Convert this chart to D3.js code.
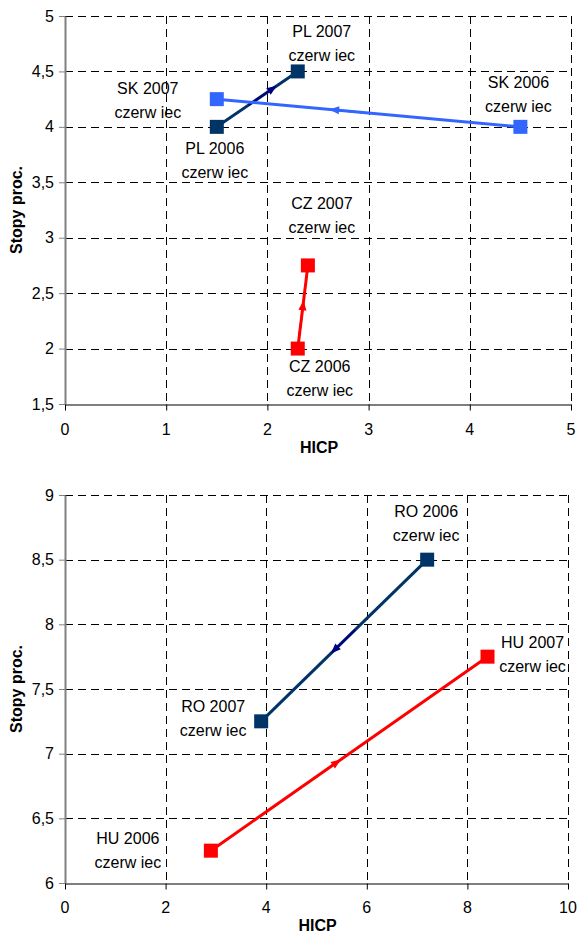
<!DOCTYPE html>
<html>
<head>
<meta charset="utf-8">
<script src="https://cdn.jsdelivr.net/npm/d3@7"></script>
<style>
  html, body { margin: 0; padding: 0; background: #fff; }
  svg { display: block; font-family: "Liberation Sans", Arial, sans-serif; }
</style>
</head>
<body>
<svg id="chart" width="577" height="932"></svg>
<script>
// Inflation (HICP) vs. policy rates, June 2006 -> June 2007
const years = ["2006", "2007"];
const monthLabel = "czerw iec";
const xTitle = "HICP";
const yTitle = "Stopy proc.";

// upper panel
const hicpPL = [1.5, 2.3];
const ratePL = [4.0, 4.5];
const hicpSK = [4.5, 1.5];
const rateSK = [4.0, 4.25];
const hicpCZ = [2.3, 2.4];
const rateCZ = [2.0, 2.75];
const xTicksTop = [0, 1, 2, 3, 4, 5];
const yTicksTop = [1.5, 2, 2.5, 3, 3.5, 4, 4.5, 5];

// lower panel
const hicpRO = [7.2, 3.9];
const rateRO = [8.5, 7.25];
const hicpHU = [2.9, 8.4];
const rateHU = [6.25, 7.75];
const xTicksBottom = [0, 2, 4, 6, 8, 10];
const yTicksBottom = [6, 6.5, 7, 7.5, 8, 8.5, 9];

const NAVY = "#003366", BLUE = "#3366FF", RED = "#FF0000";
const fmt = v => String(v).replace(".", ",");

const svg = d3.select("#chart");

const panels = [
  {
    x: [65, 571], y: [404, 16],
    xDomain: [0, 5], yDomain: [1.5, 5],
    xTicks: xTicksTop, yTicks: yTicksTop,
    tickLabelY: 429, xTitleY: 447,
    series: [
      { code: "PL", hicp: hicpPL, rate: ratePL, color: NAVY, arrow: "#000080", t: 0.74,
        offsets: [[-2, 22], [24, -40]] },
      { code: "SK", hicp: hicpSK, rate: rateSK, color: BLUE, arrow: BLUE, t: 0.63,
        offsets: [[-2, -44], [-69, -11]] },
      { code: "CZ", hicp: hicpCZ, rate: rateCZ, color: RED, arrow: RED, t: 0.58,
        offsets: [[22, 18], [14, -62]] }
    ]
  },
  {
    x: [65, 568], y: [883, 495],
    xDomain: [0, 10], yDomain: [6, 9],
    xTicks: xTicksBottom, yTicks: yTicksBottom,
    tickLabelY: 907, xTitleY: 925,
    series: [
      { code: "RO", hicp: hicpRO, rate: rateRO, color: NAVY, arrow: "#000080", t: 0.58,
        offsets: [[-1, -48], [-48, -15]] },
      { code: "HU", hicp: hicpHU, rate: rateHU, color: RED, arrow: RED, t: 0.47,
        offsets: [[-83, -12], [45, -14]] }
    ]
  }
];

panels.forEach(p => {
  const x = d3.scaleLinear().domain(p.xDomain).range(p.x);
  const y = d3.scaleLinear().domain(p.yDomain).range(p.y);
  const g = svg.append("g");
  const px = v => Math.round(x(v)) + 0.5;
  const py = v => Math.round(y(v)) + 0.5;

  // dashed grid (includes top and right border)
  g.append("g").selectAll("line.h").data(p.yTicks.slice(1)).join("line")
    .attr("x1", p.x[0]).attr("x2", p.x[1])
    .attr("y1", py).attr("y2", py)
    .attr("stroke", "#000").attr("stroke-width", 1).attr("stroke-dasharray", "8,5");
  g.append("g").selectAll("line.v").data(p.xTicks.slice(1)).join("line")
    .attr("x1", px).attr("x2", px)
    .attr("y1", p.y[1]).attr("y2", p.y[0])
    .attr("stroke", "#000").attr("stroke-width", 1).attr("stroke-dasharray", "8,5");

  // y axis (grey) with ticks and labels
  const yAxis = g.append("g").attr("transform", `translate(${p.x[0]},0)`)
    .call(d3.axisLeft(y).tickValues(p.yTicks).tickSize(6).tickSizeOuter(0).tickPadding(5).tickFormat(fmt));
  yAxis.select(".domain").attr("stroke", "#808080").attr("stroke-width", 2);
  yAxis.selectAll(".tick line").attr("stroke", "#808080");
  yAxis.selectAll(".tick text").attr("font-size", 16).attr("fill", "#000")
    .attr("font-family", "Liberation Sans, Arial, sans-serif");

  // x axis (black) with ticks and labels
  const xAxis = g.append("g").attr("transform", `translate(0,${p.y[0] + 0.5})`)
    .call(d3.axisBottom(x).tickValues(p.xTicks).tickSize(6).tickSizeOuter(0).tickFormat(fmt));
  xAxis.select(".domain").attr("stroke", "#000").attr("stroke-width", 1.2);
  xAxis.selectAll(".tick line").attr("stroke", "#000");
  xAxis.selectAll(".tick text").remove();
  g.append("g").selectAll("text").data(p.xTicks).join("text")
    .attr("x", x).attr("y", p.tickLabelY)
    .attr("text-anchor", "middle").attr("dominant-baseline", "central")
    .attr("font-size", 16).attr("fill", "#000").text(fmt);

  // axis titles
  g.append("text").attr("x", (p.x[0] + p.x[1]) / 2 + 1).attr("y", p.xTitleY)
    .attr("text-anchor", "middle").attr("dominant-baseline", "central")
    .attr("font-size", 16).attr("font-weight", "bold").text(xTitle);
  const cy = (p.y[0] + p.y[1]) / 2;
  g.append("text").attr("transform", `translate(16,${cy}) rotate(-90)`)
    .attr("text-anchor", "middle").attr("dominant-baseline", "central")
    .attr("font-size", 16).attr("font-weight", "bold").text(yTitle);

  // series: connecting line, direction arrow, markers, labels
  p.series.forEach(s => {
    const pts = s.hicp.map((h, i) => [x(h), y(s.rate[i])]);
    g.append("path").attr("d", d3.line()(pts))
      .attr("fill", "none").attr("stroke", s.color).attr("stroke-width", 3);

    const [x0, y0] = pts[0], [x1, y1] = pts[1];
    const tx = x0 + (x1 - x0) * s.t, ty = y0 + (y1 - y0) * s.t;
    const ang = Math.atan2(y1 - y0, x1 - x0) * 180 / Math.PI;
    const ag = g.append("g").attr("transform", `translate(${tx},${ty}) rotate(${ang})`);
    ag.append("line").attr("x1", -34).attr("x2", -6).attr("y1", 0).attr("y2", 0)
      .attr("stroke", s.arrow).attr("stroke-width", 2);
    ag.append("path").attr("d", "M0,0 L-10,-4 L-10,4 Z").attr("fill", s.arrow);

    g.append("g").selectAll("rect").data(pts).join("rect")
      .attr("x", d => d[0] - 7).attr("y", d => d[1] - 7)
      .attr("width", 14).attr("height", 14).attr("fill", s.color);

    years.forEach((yr, i) => {
      const [ox, oy] = s.offsets[i];
      const lx = pts[i][0] + ox, ly = pts[i][1] + oy;
      const t = g.append("text").attr("text-anchor", "middle")
        .attr("font-size", 16).attr("fill", "#000");
      t.append("tspan").attr("x", lx).attr("y", ly).attr("dominant-baseline", "central")
        .text(`${s.code} ${yr}`);
      t.append("tspan").attr("x", lx).attr("y", ly + 24).attr("dominant-baseline", "central")
        .text(monthLabel);
    });
  });
});
</script>
</body>
</html>
